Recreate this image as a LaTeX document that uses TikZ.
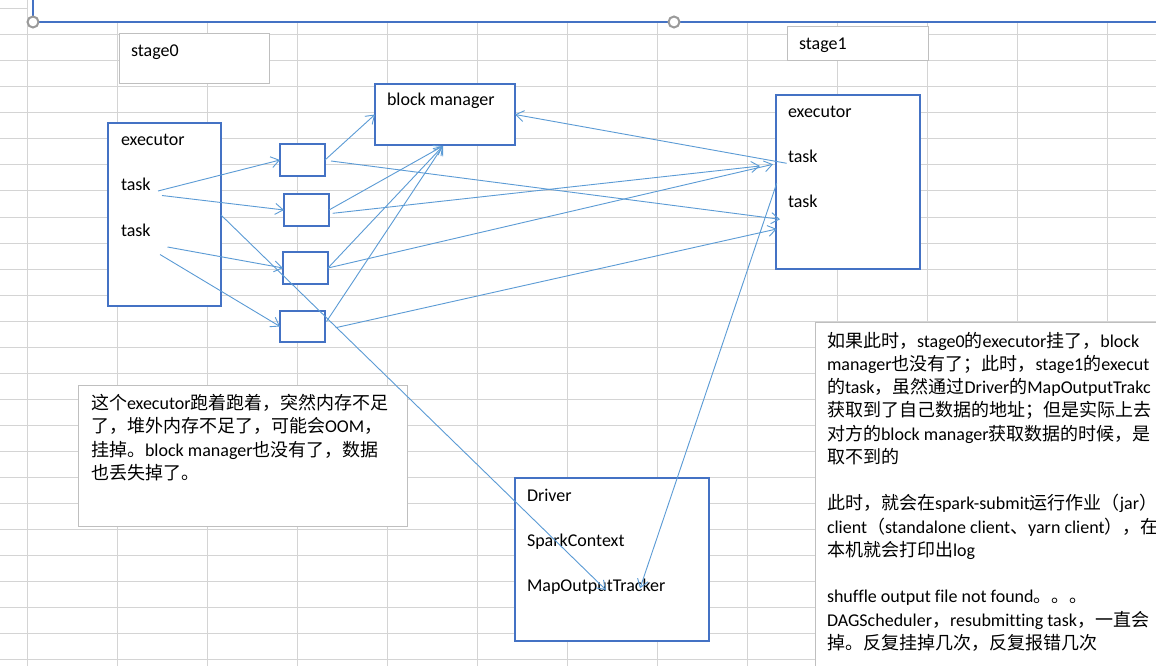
\documentclass[tikz,border=0pt]{standalone}
\usepackage{fontspec}
\setmainfont{Carlito}[Ligatures=NoCommon]
\newfontfamily\cjkfont{Noto Sans CJK SC}
\usetikzlibrary{arrows.meta}
\newcommand\zh[1]{{\cjkfont #1}}
\newcommand\fs{\fontsize{18bp}{23.4bp}\selectfont}
\definecolor{gridc}{HTML}{D4D4D4}
\definecolor{boxblue}{HTML}{4472C4}
\definecolor{arrowc}{HTML}{5B9BD5}
\definecolor{noteg}{HTML}{BFBFBF}
\definecolor{handlec}{HTML}{9A9A9A}
\tikzset{
  gridln/.style={draw=gridc, line width=1bp},
  bluebox/.style={draw=boxblue, line width=2bp, fill=white, inner sep=0pt, outer sep=0pt, anchor=north west},
  graybox/.style={draw=noteg, line width=1bp, fill=white, inner sep=0pt, outer sep=0pt, anchor=north west},
  lbl/.style={anchor=base west, inner sep=0pt, outer sep=0pt, font=\fs, text=black},
  conn/.style={draw=arrowc, line width=0.9bp, -{Straight Barb[length=8bp,width=11bp,line width=0.9bp]}},
  handle/.style={circle, draw=handlec, line width=2bp, fill=white, minimum size=11bp, inner sep=0pt}
}
\begin{document}
\begin{tikzpicture}[x=1bp,y=-1bp]
\useasboundingbox (0,0) rectangle (1156,666);
\clip (0,0) rectangle (1156,666);
\fill[white] (0,0) rectangle (1156,666);
% spreadsheet grid
\foreach \gx in {27,117,...,1107} \draw[gridln] (\gx,0) -- (\gx,666);
\foreach \gy in {35,61,...,659} \draw[gridln] (0,\gy) -- (1156,\gy);
\draw[gridln] (0,9) -- (27,9);
% selected shape at top
\fill[white] (33,-2) rectangle (1160,22);
\draw[boxblue, line width=1.3bp] (33,-2) -- (33,22) -- (1160,22);
\node[handle] (h1) at (33,22) {};
\node[handle] (h2) at (674,22) {};

% boxes
\node[graybox, minimum width=149.5bp, minimum height=50bp] (s0box) at (119.5,34) {};
\node[graybox, minimum width=140.5bp, minimum height=33.5bp] (s1box) at (787.5,27) {};
\node[bluebox, minimum width=140bp, minimum height=61bp] (bm) at (375,84) {};
\node[bluebox, minimum width=113bp, minimum height=183bp] (exL) at (108,123) {};
\node[bluebox, minimum width=45bp, minimum height=32bp] (b1) at (280,144) {};
\node[bluebox, minimum width=45bp, minimum height=32bp] (b2) at (284,194) {};
\node[bluebox, minimum width=45bp, minimum height=32bp] (b3) at (283,252) {};
\node[bluebox, minimum width=45bp, minimum height=31bp] (b4) at (280,311) {};
\node[bluebox, minimum width=144bp, minimum height=174bp] (exR) at (776,95) {};
\node[graybox, minimum width=328.5bp, minimum height=141bp] (noteL) at (78.5,385) {};
\node[bluebox, minimum width=194bp, minimum height=163bp] (drv) at (515,478) {};
\node[graybox, minimum width=360bp, minimum height=360bp] (noteR) at (815.5,322) {};

% labels
\node[lbl] (s0) at (131,57) {stage0};
\node[lbl] (s1) at (799,50) {stage1};
\node[lbl] (bmt) at (387,106) {block manager};
\node[lbl] (exLt) at (121,146) {executor};
\node[lbl] (tL1) at (121,191) {task};
\node[lbl] (tL2) at (121,236) {task};
\node[lbl] (exRt) at (788,118) {executor};
\node[lbl] (tR1) at (788,163) {task};
\node[lbl] (tR2) at (788,208) {task};
\node[lbl] (drvt) at (527,501) {Driver};
\node[lbl] (sct) at (527,546) {SparkContext};
\node[lbl] (mot) at (527,591) {MapOutputTracker};

% left note
\node[lbl] (nl1) at (91,409) {\zh{这个}executor\zh{跑着跑着，突然内存不足}};
\node[lbl] (nl2) at (91,432.5) {\zh{了，堆外内存不足了，可能会}OOM\zh{，}};
\node[lbl] (nl3) at (91,456) {\zh{挂掉。}block manager\zh{也没有了，数据}};
\node[lbl] (nl4) at (91,479.5) {\zh{也丢失掉了。}};

% right note
\node[lbl] (nr1) at (827,347) {\zh{如果此时，}stage0\zh{的}executor\zh{挂了，}block};
\node[lbl] (nr2) at (827,370.25) {manager\zh{也没有了；此时，}stage1\zh{的}execut};
\node[lbl] (nr3) at (827,393.5) {\zh{的}task\zh{，虽然通过}Driver\zh{的}MapOutputTrakc};
\node[lbl] (nr4) at (827,416.75) {\zh{获取到了自己数据的地址；但是实际上去}};
\node[lbl] (nr5) at (827,440) {\zh{对方的}block manager\zh{获取数据的时候，是}};
\node[lbl] (nr6) at (827,463.25) {\zh{取不到的}};
\node[lbl] (nr8) at (827,509.75) {\zh{此时，就会在}spark-submit\zh{运行作业（}jar\zh{）}};
\node[lbl] (nr9) at (827,533) {client\zh{（}standalone client\zh{、}yarn client\zh{），在}};
\node[lbl] (nr10) at (827,556.25) {\zh{本机就会打印出}log};
\node[lbl] (nr12) at (827,602.75) {shuffle output file not found\zh{。。。}};
\node[lbl] (nr13) at (827,626) {DAGScheduler\zh{，}resubmitting task\zh{，一直会}};
\node[lbl] (nr14) at (827,649.25) {\zh{掉。反复挂掉几次，反复报错几次}};

% connector end points
\coordinate (a1s) at (158,191);
\coordinate (a2s) at (162,195.5);
\coordinate (a3s) at (167.5,247);
\coordinate (a4s) at (160,254.5);
\coordinate (a5s) at (221,215);
\coordinate (mot1) at (606,590);
\coordinate (mot2) at (640,588.3);
\coordinate (bmS) at (443,146);
\coordinate (b4a) at (326.5,321.5);
\coordinate (b1r) at (331,161);
\coordinate (b2r) at (332.7,213.3);
\coordinate (b4r) at (335.7,327.7);
\coordinate (eR1) at (780,219.3);
\coordinate (eR2) at (760,166);
\coordinate (eR3) at (773,164.3);
\coordinate (eR4) at (776.7,229);
\coordinate (tR1s) at (786.7,163.3);
\coordinate (eRl) at (776.7,183.3);

% connectors
\draw[conn] (a1s) -- (b1.west);
\draw[conn] (a2s) -- (b2.west);
\draw[conn] (a3s) -- (b3.west);
\draw[conn] (a4s) -- (b4.west);
\draw[conn] (a5s) -- (mot1);
\draw[conn] (b1.east) -- (bm.west);
\draw[conn] (b2.east) -- (bmS);
\draw[conn] (b3.east) -- (bmS);
\draw[conn] (b4a) -- (bmS);
\draw[conn] (b1r) -- (eR1);
\draw[conn] (b2r) -- (eR2);
\draw[conn] (b3.east) -- (eR3);
\draw[conn] (b4r) -- (eR4);
\draw[conn] (tR1s) -- (bm.east);
\draw[conn] (eRl) -- (mot2);
\end{tikzpicture}
\end{document}
